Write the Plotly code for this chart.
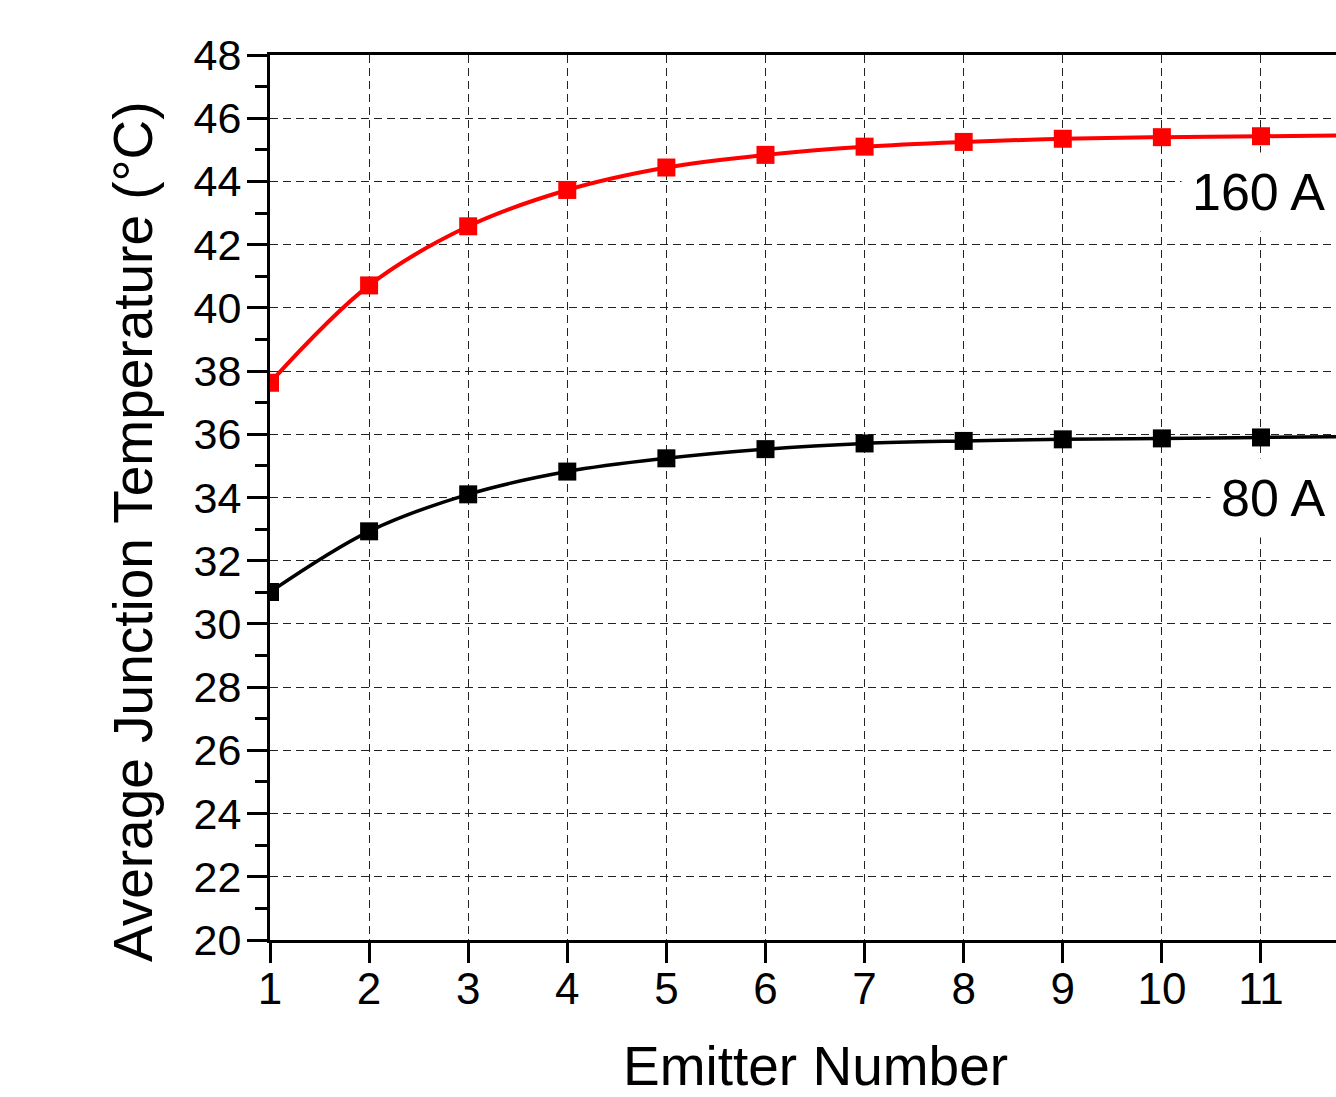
import plotly.graph_objects as go

emitters = [1, 2, 3, 4, 5, 6, 7, 8, 9, 10, 11, 12]
temp_160A = [37.63, 40.71, 42.58, 43.73, 44.44, 44.84, 45.10, 45.25, 45.35, 45.40, 45.43, 45.46]
temp_80A = [31.01, 32.93, 34.10, 34.82, 35.24, 35.53, 35.71, 35.79, 35.84, 35.87, 35.90, 35.93]
y_ticks = list(range(20, 49, 2))
x_ticks = list(range(1, 13))
label_160 = "160 A"
label_80 = "80 A"
x_title = "Emitter Number"
y_title = "Average Junction Temperature (°C)"

FONT = "Liberation Sans, Arial, sans-serif"

fig = go.Figure()
fig.add_trace(go.Scatter(
    x=emitters, y=temp_80A, mode="lines+markers",
    line=dict(color="black", width=3.5, shape="spline"),
    marker=dict(symbol="square", size=18, color="black"),
    showlegend=False,
))
fig.add_trace(go.Scatter(
    x=emitters, y=temp_160A, mode="lines+markers",
    line=dict(color="#ff0000", width=4, shape="spline"),
    marker=dict(symbol="square", size=18, color="#ff0000"),
    showlegend=False,
))

fig.add_annotation(x=1.0, y=43.67, xref="paper", yref="y", text=label_160,
                   showarrow=False, xanchor="right", yanchor="middle",
                   font=dict(family=FONT, size=52, color="black"),
                   bgcolor="white", borderpad=10)
fig.add_annotation(x=1.0, y=34.0, xref="paper", yref="y", text=label_80,
                   showarrow=False, xanchor="right", yanchor="middle",
                   font=dict(family=FONT, size=52, color="black"),
                   bgcolor="white", borderpad=10)

fig.add_annotation(x=0.512, y=-0.1425, xref="paper", yref="paper", text=x_title,
                   showarrow=False, xanchor="center", yanchor="middle",
                   font=dict(family=FONT, size=55, color="black"))
fig.add_annotation(x=-0.1285, y=0.461, xref="paper", yref="paper", text=y_title,
                   showarrow=False, xanchor="center", yanchor="middle", textangle=-90,
                   font=dict(family=FONT, size=55, color="black"))

fig.update_layout(
    width=1336, height=1097,
    margin=dict(l=270, r=0, t=55, b=157),
    paper_bgcolor="white", plot_bgcolor="white",
    font=dict(family=FONT, color="black"),
)
fig.update_xaxes(
    range=[1, 11.757], tickvals=x_ticks,
    showline=True, linewidth=3, linecolor="black", mirror=True,
    ticks="outside", ticklen=20, tickwidth=3, tickcolor="black",
    tickfont=dict(family=FONT, size=44, color="black"),
    ticklabelstandoff=-12,
    showgrid=True, gridcolor="#222222", gridwidth=1, griddash="8px,5px",
    zeroline=False,
)
fig.update_yaxes(
    range=[20, 48], tickvals=y_ticks,
    showline=True, linewidth=3, linecolor="black", mirror=False,
    ticks="outside", ticklen=20, tickwidth=3, tickcolor="black",
    tickfont=dict(family=FONT, size=43, color="black"),
    ticklabelstandoff=-3,
    showgrid=True, gridcolor="#222222", gridwidth=1, griddash="8px,5px",
    zeroline=False,
    minor=dict(dtick=1, ticks="outside", ticklen=12, tickwidth=3, tickcolor="black", showgrid=False),
)

fig.write_html("out.html")
